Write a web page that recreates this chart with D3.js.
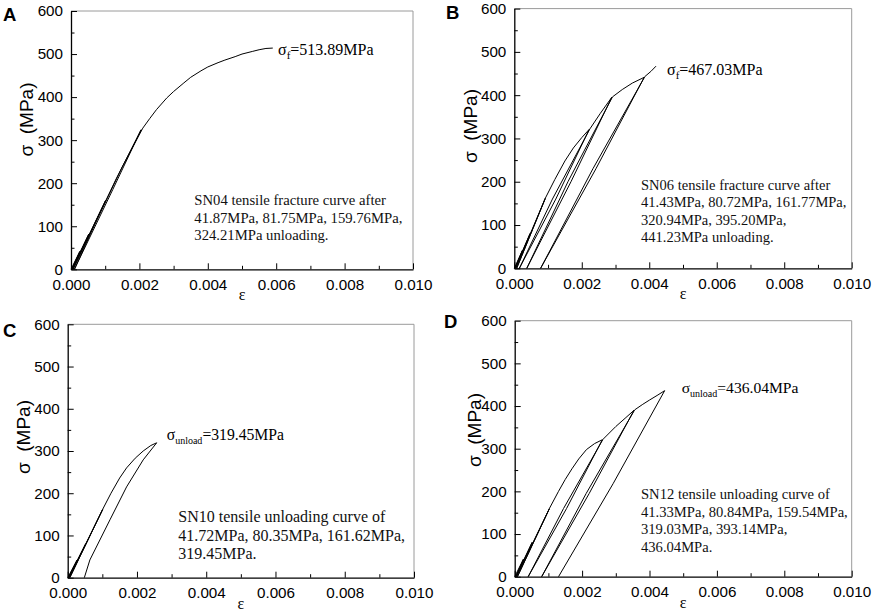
<!DOCTYPE html>
<html><head><meta charset="utf-8">
<script src="https://cdn.jsdelivr.net/npm/d3@7"></script>
<style>body{margin:0;background:#fff} svg{display:block}</style>
</head><body>
<svg id="c" width="872" height="613"></svg>
<script>
// ---------- data ----------
const xTicks = [0, 0.002, 0.004, 0.006, 0.008, 0.010];
const xTickLabels = ["0.000","0.002","0.004","0.006","0.008","0.010"];
const xMinor = [0.001, 0.003, 0.005, 0.007, 0.009];
const yTicks = [0,100,200,300,400,500,600];
const yTickLabels = ["0","100","200","300","400","500","600"];
const yMinor = [50,150,250,350,450,550];

// Panel A: SN04
const epsA = [0,0.00026,0.00002,0.00052,0.00004,0.00101,0.00006,0.00132,0.00205,0.00122,0.00010,0.00070,0.00150,0.00210,0.00230,0.00250,0.00280,0.00300,0.00330,0.00350,0.00380,0.00400,0.00430,0.00450,0.00480,0.00500,0.00530,0.00550,0.00570,0.00590];
const sigA = [0,41.87,0,81.75,0,159.76,0,210,324.21,185,0,105,238,328,350,371,398,413,433,446,461,470,480,486,494,500,506,510,513,513.89];
// Panel B: SN06
const epsB = [0,0.00024,0.00002,0.00047,0.00004,0.00092,0.00007,0.00092,0.00120,0.00150,0.00175,0.00200,0.00222,0.00123,0.00015,0.00113,0.00224,0.00255,0.00289,0.00168,0.00037,0.00159,0.00291,0.00320,0.00350,0.00385,0.00242,0.00078,0.00233,0.00387,0.00405,0.00420];
const sigB = [0,41.43,0,80.72,0,161.77,0,162,205,248,278,302,320.94,160,0,160,322,358,395.20,200,0,200,396,413,428,441.23,230,0,230,443,455,467.03];
// Panel C: SN10
const epsC = [0,0.00027,0.00002,0.00052,0.00004,0.00101,0.00006,0.00101,0.00125,0.00150,0.00170,0.00195,0.00218,0.00240,0.00257,0.00218,0.00170,0.00122,0.00064,0.00048];
const sigC = [0,41.72,0,80.35,0,161.62,0,162,200,236,260,283,300,313,319.45,279,215,137,42,0];
// Panel D: SN12
const epsD = [0,0.00026,0.00003,0.00052,0.00005,0.00103,0.00008,0.00103,0.00130,0.00150,0.00170,0.00190,0.00213,0.00237,0.00260,0.00154,0.00040,0.00145,0.00262,0.00300,0.00330,0.00354,0.00221,0.00080,0.00212,0.00356,0.00380,0.00400,0.00425,0.00445,0.00292,0.00130];
const sigD = [0,41.33,0,80.84,0,159.54,0,160,200,228,253,276,298,312,321,160,0,160,322,352,373,390,195,0,195,391,404,414,426,436.04,218,0];

const noteA = ["SN04 tensile fracture curve after","41.87MPa, 81.75MPa, 159.76MPa,","324.21MPa unloading."];
const noteB = ["SN06 tensile fracture curve after","41.43MPa, 80.72MPa, 161.77MPa,","320.94MPa, 395.20MPa,","441.23MPa unloading."];
const noteC = ["SN10 tensile unloading curve of","41.72MPa, 80.35MPa, 161.62MPa,","319.45MPa."];
const noteD = ["SN12 tensile unloading curve of","41.33MPa, 80.84MPa, 159.54MPa,","319.03MPa, 393.14MPa,","436.04MPa."];

// ---------- layout ----------
const panels = [
 {id:"A", eps:epsA, sig:sigA, box:{l:71,r:413,t:11,b:269.3}, letter:[3,20.7], ylab:[26,119.5],
  peak:{x:278,y:55,sub:"f",text:"=513.89MPa",fs:16,sfs:11}, note:{x:194.3,y:205,lh:17.5,fs:14.7,lines:noteA}},
 {id:"B", eps:epsB, sig:sigB, box:{l:514.3,r:851.7,t:8.6,b:268.3}, letter:[446,19], ylab:[470,126],
  peak:{x:667,y:75,sub:"f",text:"=467.03MPa",fs:16,sfs:11}, note:{x:641,y:190,lh:17.4,fs:14.5,lines:noteB}},
 {id:"C", eps:epsC, sig:sigC, box:{l:67.7,r:414,t:324.3,b:577.7}, letter:[3,337], ylab:[23,437],
  peak:{x:166.7,y:440,sub:"unload",text:"=319.45MPa",fs:15.7,sfs:10}, note:{x:178.3,y:521.7,lh:18.8,fs:16,lines:noteC}},
 {id:"D", eps:epsD, sig:sigD, box:{l:514.7,r:851.7,t:320.7,b:576.7}, letter:[444,328], ylab:[474,430],
  peak:{x:681.7,y:392.7,sub:"unload",text:"=436.04MPa",fs:15.6,sfs:10}, note:{x:641,y:499.3,lh:17.5,fs:14.6,lines:noteD}}
];

const svg = d3.select("#c");
const SANS = "'Liberation Sans', Arial, sans-serif";
const SERIF = "'Liberation Serif', 'Times New Roman', serif";

function draw(p){
  const b = p.box;
  const x = d3.scaleLinear().domain([0,0.01]).range([b.l,b.r]);
  const y = d3.scaleLinear().domain([0,600]).range([b.b,b.t]);
  const g = svg.append("g");

  // gray top/right frame
  g.append("line").attr("x1",b.l).attr("x2",b.r).attr("y1",b.t).attr("y2",b.t).attr("stroke","#9a9a9a").attr("stroke-width",1);
  g.append("line").attr("x1",b.r).attr("x2",b.r).attr("y1",b.t).attr("y2",b.b).attr("stroke","#9a9a9a").attr("stroke-width",1);

  // minor ticks
  g.append("g").attr("transform",`translate(0,${b.b})`)
    .call(d3.axisBottom(x).tickValues(xMinor).tickSizeInner(-3.5).tickSizeOuter(0).tickFormat(""))
    .call(s=>s.select(".domain").remove());
  g.append("g").attr("transform",`translate(${b.l},0)`)
    .call(d3.axisLeft(y).tickValues(yMinor).tickSizeInner(-3.5).tickSizeOuter(0).tickFormat(""))
    .call(s=>s.select(".domain").remove());

  // major axes
  const xa = g.append("g").attr("transform",`translate(0,${b.b})`)
    .call(d3.axisBottom(x).tickValues(xTicks).tickFormat((d,i)=>xTickLabels[i]).tickSizeInner(-6).tickSizeOuter(0).tickPadding(10));
  const ya = g.append("g").attr("transform",`translate(${b.l},0)`)
    .call(d3.axisLeft(y).tickValues(yTicks).tickFormat((d,i)=>yTickLabels[i]).tickSizeInner(-6).tickSizeOuter(0).tickPadding(8));
  [xa,ya].forEach(a=>{
    a.selectAll("text").attr("font-family",SANS).attr("font-size","15.2px").attr("fill","#000");
    a.select(".domain").attr("stroke","#000").attr("stroke-width",1.3);
  });
  g.selectAll(".tick line").attr("stroke","#000").attr("stroke-width",1);

  // curve
  const idx = d3.range(p.eps.length);
  const line = d3.line().x(i=>x(p.eps[i])).y(i=>y(p.sig[i]));
  g.append("path").attr("d",line(idx)).attr("fill","none").attr("stroke","#000")
    .attr("stroke-width",1).attr("stroke-linejoin","round");

  // axis labels
  g.append("text").attr("x",(b.l+b.r)/2).attr("y",b.b+31).attr("text-anchor","middle")
    .attr("font-family",SERIF).attr("font-size","16px").text("ε");
  g.append("text").attr("transform",`translate(${p.ylab[0]},${p.ylab[1]}) rotate(-90)`)
    .attr("text-anchor","middle").attr("dominant-baseline","central")
    .attr("font-family",SANS).attr("font-size","19px").text("σ\u00A0\u00A0(MPa)");

  // panel letter
  g.append("text").attr("x",p.letter[0]).attr("y",p.letter[1]).attr("font-family",SANS)
    .attr("font-weight","bold").attr("font-size","18.5px").text(p.id);

  // peak label
  const pk = g.append("text").attr("x",p.peak.x).attr("y",p.peak.y).attr("font-family",SERIF).attr("font-size",p.peak.fs+"px");
  pk.append("tspan").text("σ");
  pk.append("tspan").attr("dy",4).attr("font-size",p.peak.sfs+"px").text(p.peak.sub);
  pk.append("tspan").attr("dy",-4).text(p.peak.text);

  // note block
  const nt = g.append("text").attr("font-family",SERIF).attr("font-size",p.note.fs+"px").attr("fill","#111");
  p.note.lines.forEach((t,i)=>{
    nt.append("tspan").attr("x",p.note.x).attr("y",p.note.y+i*p.note.lh).text(t);
  });
}
panels.forEach(draw);
</script>
</body></html>
